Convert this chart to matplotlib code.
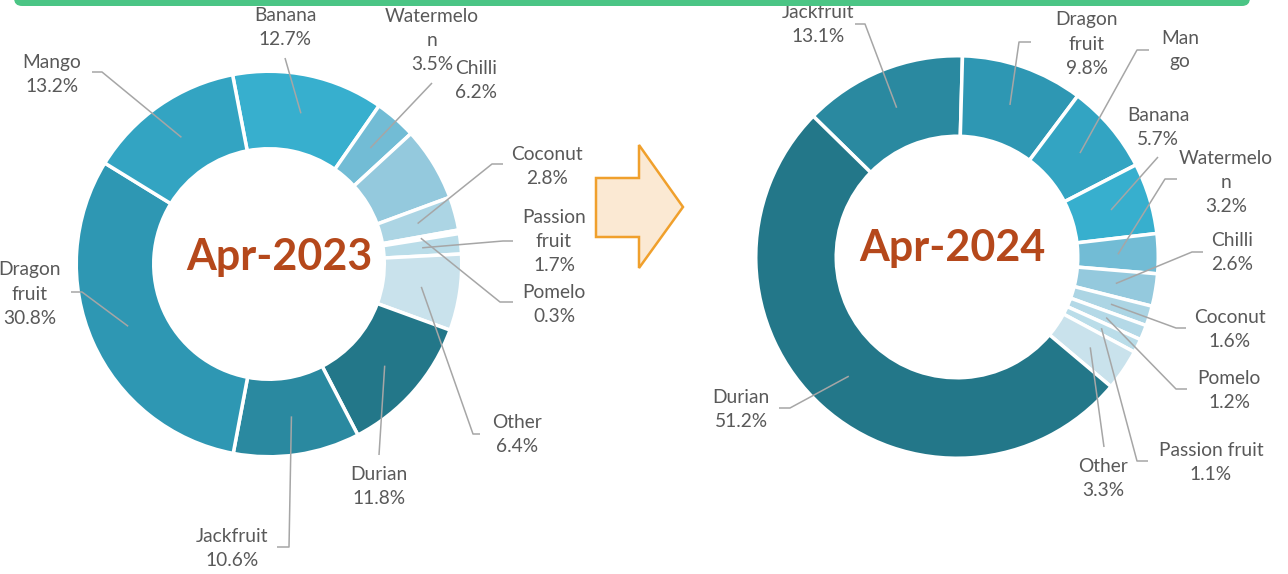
import numpy as np
import matplotlib
matplotlib.use("Agg")
import matplotlib.pyplot as plt
from matplotlib.patches import Polygon, FancyBboxPatch

# ---------------- data ----------------
fruits_2023 = ["Banana", "Watermelon", "Chilli", "Coconut", "Pomelo", "Passion fruit",
               "Other", "Durian", "Jackfruit", "Dragon fruit", "Mango"]
share_2023 = [12.7, 3.5, 6.2, 2.8, 0.3, 1.7, 6.4, 11.8, 10.6, 30.8, 13.2]
names_2023 = ["Banana", "Watermelo\nn", "Chilli", "Coconut", "Pomelo", "Passion\nfruit",
              "Other", "Durian", "Jackfruit", "Dragon\nfruit", "Mango"]

fruits_2024 = ["Jackfruit", "Dragon fruit", "Mango", "Banana", "Watermelon", "Chilli",
               "Coconut", "Pomelo", "Passion fruit", "Other", "Durian"]
share_2024 = [13.1, 9.8, 7.2, 5.7, 3.2, 2.6, 1.6, 1.2, 1.1, 3.3, 51.2]
names_2024 = ["Jackfruit", "Dragon\nfruit", "Man\ngo", "Banana", "Watermelo\nn", "Chilli",
              "Coconut", "Pomelo", "Passion fruit", "Other", "Durian"]
show_pct_2024 = [True, True, False, True, True, True, True, True, True, True, True]

titles = ["Apr-2023", "Apr-2024"]

fruit_colors = {
    "Durian": "#237789", "Jackfruit": "#2a89a0", "Dragon fruit": "#2e97b3",
    "Mango": "#33a4c2", "Banana": "#37afce", "Watermelon": "#72bcd5",
    "Chilli": "#94c9dd", "Coconut": "#acd5e4", "Pomelo": "#b4d9e7",
    "Passion fruit": "#badde9", "Other": "#c9e2ec",
}

# ---------------- layout (pixel coordinates, y from top) ----------------
W, H = 1288, 574
FONT = ["Lato", "DejaVu Sans"]
LABEL_COLOR = "#595959"
LEADER_COLOR = "#a6a6a6"

donuts = [
    dict(center=(269, 264), r_out=191, r_in=117, start=100.9, text_xy=(279, 257)),
    dict(center=(957, 257), r_out=199.5, r_in=122.5, start=135.6, text_xy=(952, 248)),
]

label_pos_2023 = [(285, 27.5), (432, 41), (476, 80), (547, 166), (554, 304), (554, 241.5),
                  (517, 434), (379, 486.5), (232, 548.5), (30, 294), (52, 74.5)]
leader_2023 = [[(285, 58)], [(432, 83)], None, [(503, 164), (492, 164)],
               [(513, 302), (500, 302)], [(513, 241), (503, 241)],
               [(480, 434), (473, 434)], [(379, 455)], [(277, 547), (289, 547)],
               [(71, 292), (82, 292)], [(92, 72), (102, 72)]]

label_pos_2024 = [(818, 25), (1087, 44), (1180, 50), (1158, 127.5), (1226, 182),
                  (1232, 253), (1230, 329.5), (1229, 390), (1211, 462), (1103, 479),
                  (741, 409.5)]
leader_2024 = [[(855, 24), (865, 24)], [(1031, 42), (1019, 42)], [(1149, 50), (1137, 50)],
               [(1158, 157)], [(1177, 179), (1165, 179)], [(1203, 252), (1192, 252)],
               [(1186, 328), (1176, 328)], [(1187, 389), (1176, 389)],
               [(1148, 461), (1137, 461)], [(1104, 447)], [(779, 408), (790, 408)]]


def P(x, y):
    return (x, H - y)


fig = plt.figure(figsize=(W / 100, H / 100), dpi=100)
ax = fig.add_axes([0, 0, 1, 1])

EDGE_PX = 3.5
edge_lw = EDGE_PX * 72 / 100

charts = [
    (fruits_2023, share_2023, names_2023, [True] * len(fruits_2023), label_pos_2023, leader_2023),
    (fruits_2024, share_2024, names_2024, show_pct_2024, label_pos_2024, leader_2024),
]

for d, (fr, vals, nm, showp, lpos, lead), title in zip(donuts, charts, titles):
    cx, cy = P(*d["center"])
    r_out = d["r_out"] + EDGE_PX / 2
    r_in = d["r_in"] - EDGE_PX / 2
    wedges, _ = ax.pie(vals, colors=[fruit_colors[f] for f in fr], startangle=d["start"],
                       counterclock=False, center=(cx, cy), radius=r_out,
                       wedgeprops=dict(width=r_out - r_in, edgecolor="white", linewidth=edge_lw))
    rm = (d["r_out"] + d["r_in"]) / 2
    for w, name, v, sp, lp, ld in zip(wedges, nm, vals, showp, lpos, lead):
        mid = np.deg2rad((w.theta1 + w.theta2) / 2)
        ex, ey = cx + rm * np.cos(mid), cy + rm * np.sin(mid)
        if ld is not None:
            pts = [P(*p) for p in ld] + [(ex, ey)]
            ax.plot([p[0] for p in pts], [p[1] for p in pts], color=LEADER_COLOR,
                    lw=1.1, solid_capstyle="butt", zorder=3)
        txt = name + (f"\n{v:.1f}%" if sp else "")
        ax.text(*P(*lp), txt, ha="center", va="center", multialignment="center",
                fontsize=13.8, color=LABEL_COLOR, family=FONT, linespacing=1.5, zorder=4)
    ax.text(*P(*d["text_xy"]), title, ha="center", va="center", fontsize=31,
            fontweight="bold", color="#b5481b", family=FONT, zorder=4)

# arrow between the donuts
arrow_pts = [(596, 178), (639, 178), (639, 145), (683, 207), (639, 268), (639, 237), (596, 237)]
ax.add_patch(Polygon([P(*p) for p in arrow_pts], closed=True, facecolor="#fbe9d3",
                     edgecolor="#f0a02c", lw=1.8, joinstyle="miter", zorder=2))

# green header bar (rounded bottom)
ax.add_patch(FancyBboxPatch((14, H - 6), 1236, 30, boxstyle="round,pad=0,rounding_size=8",
                            facecolor="#4bc585", edgecolor="none", zorder=5))

ax.set_xlim(0, W)
ax.set_ylim(0, H)
ax.set_aspect("equal")
ax.axis("off")
fig.savefig("out.png", dpi=100, facecolor="white")
